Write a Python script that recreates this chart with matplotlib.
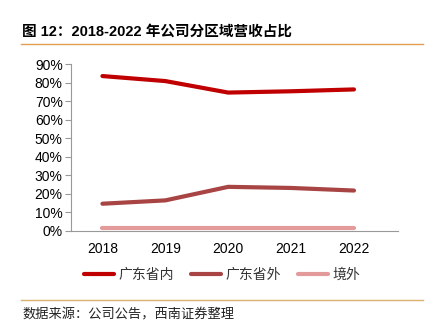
import numpy as np
import matplotlib.pyplot as plt
from matplotlib.lines import Line2D

plt.rcParams['font.family'] = ['Liberation Sans', 'Noto Sans CJK SC', 'DejaVu Sans']

years = ['2018', '2019', '2020', '2021', '2022']
inside = [83.5, 80.8, 74.6, 75.3, 76.3]
outside = [14.7, 16.5, 23.8, 23.2, 21.8]
abroad = [1.5, 1.5, 1.5, 1.5, 1.5]
series_names = ['广东省内', '广东省外', '境外']
colors = ['#C00000', '#A84444', '#E39A9A']

W, H = 428, 333
fig = plt.figure(figsize=(W / 100, H / 100), dpi=100)
ax = fig.add_axes([71 / W, 1 - 231 / H, (398 - 71) / W, (231 - 64) / H])

x = np.arange(len(years))
for vals, c, name in zip([inside, outside, abroad], colors, series_names):
    ax.plot(x, vals, color=c, lw=3, solid_capstyle='round', label=name)

ax.set_xlim(-0.5, 4.7)
ax.set_ylim(0, 90)
ax.set_yticks(np.arange(0, 91, 10))
ax.set_yticklabels([f'{v}%' for v in range(0, 91, 10)])
ax.set_xticks(x)
ax.set_xticklabels(years)
for s in ['top', 'right']:
    ax.spines[s].set_visible(False)
for s in ['left', 'bottom']:
    ax.spines[s].set_color('#999999')
ax.tick_params(axis='y', length=4, color='#999999', labelsize=10, pad=2)
ax.tick_params(axis='x', length=0, labelsize=10, pad=8)

handles = [Line2D([0], [0], color=c, lw=3, solid_capstyle='round') for c in colors]
leg = fig.legend(handles, series_names, loc='center', bbox_to_anchor=(222 / W, 1 - 275 / H),
                 ncol=3, frameon=False, handlelength=2.2, handletextpad=0.3,
                 columnspacing=1.2, prop={'family': 'Noto Sans CJK SC', 'size': 10})
for t in leg.get_texts():
    t.set_color('#333333')

fig.text(22 / W, 1 - 32 / H, '图 12：2018-2022 年公司分区域营收占比', fontsize=10.5,
         fontweight='bold', va='center', family=['Liberation Sans', 'Noto Sans CJK SC'])
fig.add_artist(Line2D([21 / W, 423 / W], [1 - 44 / H] * 2, color='#E0A050', lw=1))
fig.add_artist(Line2D([21 / W, 423 / W], [1 - 300 / H] * 2, color='#D8B070', lw=1))
fig.text(22 / W, 1 - 315 / H, '数据来源：公司公告，西南证券整理', fontsize=9.5, style='italic',
         va='center', color='#222222', family=['Noto Sans CJK SC'])

fig.savefig('out.png', dpi=100)
